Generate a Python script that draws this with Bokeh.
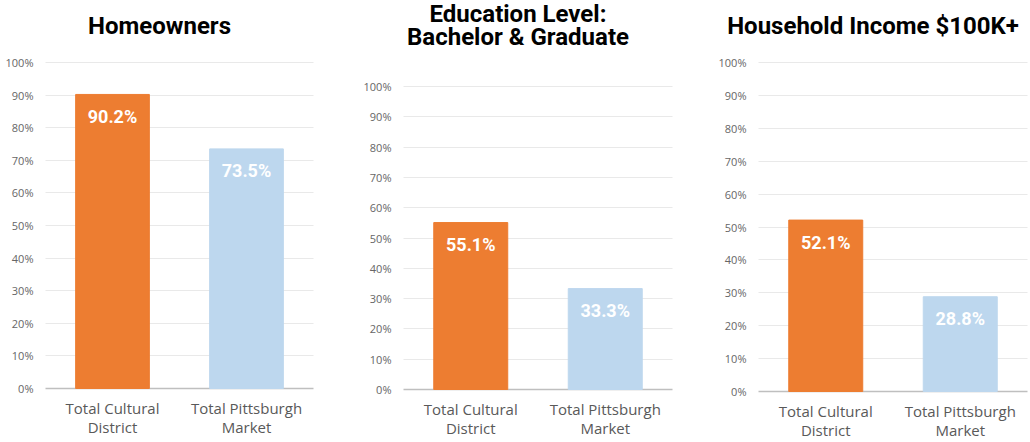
from bokeh.plotting import figure
from bokeh.layouts import row
from bokeh.models import ColumnDataSource, Range1d, FixedTicker, Grid
from bokeh.core.properties import value
from bokeh.embed import file_html
from bokeh.resources import INLINE

categories = ["Total Cultural\nDistrict", "Total Pittsburgh\nMarket"]
homeowners = [90.2, 73.5]
education = [55.1, 33.3]
income = [52.1, 28.8]
titles = ["Homeowners", "Education Level:\nBachelor & Graduate", "Household Income $100K+"]
bar_colors = ["#ED7D31", "#BDD7EE"]
y_ticks = list(range(0, 101, 10))

FIG_TOP, FIG_BOTTOM = 0, 441  # page pixels of the figures' top and bottom


def panel(vals, title, fig_left, fig_right, gl, gr, y0, y100, title_dy):
    n = len(categories)
    u = n / (gr - gl)            # data units per pixel (x)
    v = 100.0 / (y0 - y100)      # data units per pixel (y)
    xr = Range1d(-(gl - fig_left) * u, n + (fig_right - gr) * u)
    yr = Range1d(-(FIG_BOTTOM - y0) * v, 100 + (y100 - FIG_TOP) * v)
    p = figure(x_range=xr, y_range=yr, width=fig_right - fig_left,
               height=FIG_BOTTOM - FIG_TOP, output_backend="svg",
               toolbar_location=None, x_axis_location=None,
               y_axis_location=None, min_border=0)
    p.title = None
    p.outline_line_color = None
    p.background_fill_color = "white"
    p.border_fill_color = "white"
    p.xgrid.grid_line_color = None
    p.ygrid.grid_line_color = None

    p.add_layout(Grid(dimension=1, ticker=FixedTicker(ticks=y_ticks[1:]),
                      cross_bounds=(0, n), grid_line_color="#e9e9e9",
                      grid_line_width=1))
    p.add_layout(Grid(dimension=1, ticker=FixedTicker(ticks=y_ticks[:1]),
                      cross_bounds=(0, n), grid_line_color="#bfbfbf",
                      grid_line_width=1.6))

    xc = [i + 0.5 for i in range(n)]
    src = ColumnDataSource(dict(x=xc, cat=categories, val=vals,
                                color=bar_colors,
                                lab=[f"{val:.1f}%" for val in vals]))
    p.vbar(x="x", top="val", width=0.55, color="color", source=src)
    p.text(x="x", y="val", text="lab", source=src, y_offset=22,
           text_align="center", text_baseline="middle", text_color="white",
           text_font=value("Roboto"), text_font_style="bold",
           text_font_size="18px")
    # category labels under the baseline
    p.text(x="x", y=0, text="cat", source=src, y_offset=9,
           text_align="center", text_baseline="top", text_color="#595959",
           text_font=value("Open Sans"), text_font_size="15px",
           text_line_height=0.97)
    # y tick labels
    tsrc = ColumnDataSource(dict(y=y_ticks, lab=[f"{t}%" for t in y_ticks]))
    p.text(x=0, y="y", text="lab", source=tsrc, x_offset=-12,
           text_align="right", text_baseline="middle", text_color="#666666",
           text_font=value("Open Sans"), text_font_size="11px")
    # title
    p.text(x=[n / 2], y=[y_ticks[-1]], text=[title], x_offset=-20,
           y_offset=title_dy, text_align="center", text_baseline="middle",
           text_color="black", text_font=value("Roboto"),
           text_font_style="bold", text_font_size="24px",
           text_line_height=0.85)
    return p


p1 = panel(homeowners, titles[0], 0, 340, 45, 313, 388, 62, -37)
p2 = panel(education, titles[1], 340, 685, 403, 672, 389, 86, -61)
p3 = panel(income, titles[2], 685, 1028, 758, 1027, 391, 62, -37)

layout = row(p1, p2, p3)
open("out.html", "w").write(file_html(layout, INLINE))
